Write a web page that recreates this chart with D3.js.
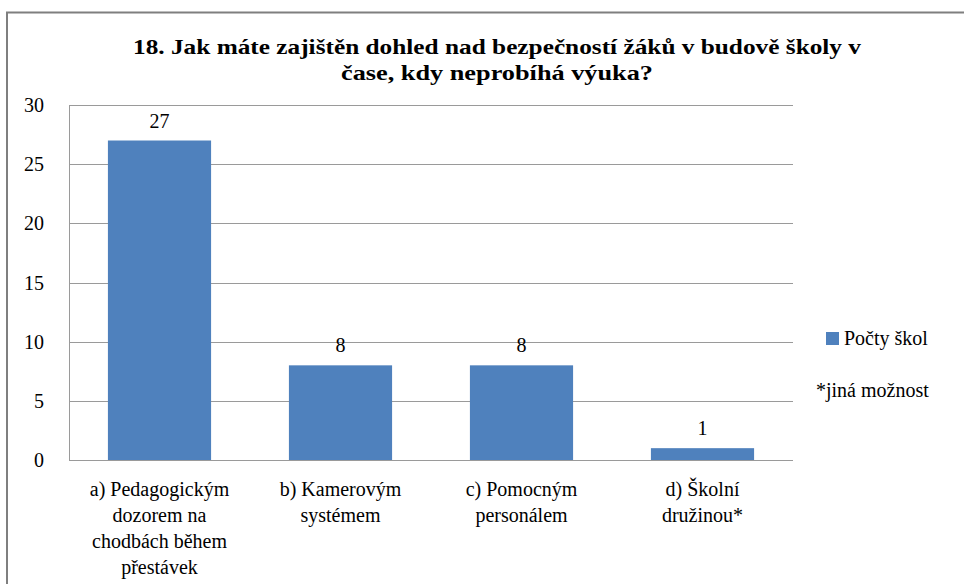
<!DOCTYPE html>
<html><head><meta charset="utf-8"><script src="https://cdn.jsdelivr.net/npm/d3@7"></script></head>
<body style="margin:0">
<script>
// chart values
const categories = [
  ["a) Pedagogickým", "dozorem na", "chodbách během", "přestávek"],
  ["b) Kamerovým", "systémem"],
  ["c) Pomocným", "personálem"],
  ["d)  Školní", "družinou*"]
];
const values = [27, 8, 8, 1];
const yTicks = [0, 5, 10, 15, 20, 25, 30];
const titleLines = [
  "18. Jak máte zajištěn dohled nad bezpečností žáků v budově školy v",
  "čase, kdy neprobíhá výuka?"
];
const legendLabels = ["Počty škol", "*jiná možnost"];

const W = 964, H = 584;
const margin = { top: 105, right: 171, bottom: 124, left: 69 };
const innerW = W - margin.left - margin.right;
const innerH = H - margin.top - margin.bottom;
const barColor = "#4f81bd";
const gridColor = "#9a9a9a";
const fam = "Times New Roman";

function label(sel) {
  return sel
    .attr("font-family", fam)
    .style("font-family", fam)
    .attr("font-size", 20)
    .attr("fill", "#000");
}

const svg = d3.select("body").append("svg")
  .attr("width", W)
  .attr("height", H);

// outer frame, cropped on right and bottom
svg.append("path")
  .attr("d", `M7,${H + 2} V12.5 H${W + 2}`)
  .attr("fill", "none")
  .attr("stroke", "#7f7f7f")
  .attr("stroke-width", 2);

// title
svg.selectAll("text.title")
  .data(titleLines)
  .join("text")
  .attr("class", "title")
  .attr("x", 497)
  .attr("y", (d, i) => 54 + i * 26)
  .attr("text-anchor", "middle")
  .call(label)
  .attr("font-size", 21)
  .attr("font-weight", "bold")
  .attr("textLength", (d, i) => (i === 0 ? 728 : 312))
  .attr("lengthAdjust", "spacingAndGlyphs")
  .text((d) => d);

const g = svg.append("g")
  .attr("transform", `translate(${margin.left},${margin.top})`);

const x = d3.scaleBand()
  .domain(d3.range(categories.length))
  .range([0, innerW])
  .paddingInner(0.43)
  .paddingOuter(0.215);
const y = d3.scaleLinear().domain([0, 30]).range([innerH, 0]);

// gridlines
g.append("g")
  .selectAll("line")
  .data(yTicks)
  .join("line")
  .attr("x1", 0)
  .attr("x2", innerW)
  .attr("y1", (d) => Math.round(y(d)) + 0.5)
  .attr("y2", (d) => Math.round(y(d)) + 0.5)
  .attr("stroke", gridColor);

g.append("line")
  .attr("x1", 0.5).attr("x2", 0.5)
  .attr("y1", 0).attr("y2", innerH)
  .attr("stroke", gridColor);

// y labels
g.append("g")
  .selectAll("text")
  .data(yTicks)
  .join("text")
  .attr("x", -25)
  .attr("y", (d) => y(d))
  .attr("dy", "0.35em")
  .attr("text-anchor", "end")
  .call(label)
  .text((d) => d);

// bars
g.append("g")
  .selectAll("rect")
  .data(values)
  .join("rect")
  .attr("x", (d, i) => x(i))
  .attr("y", (d) => y(d))
  .attr("width", x.bandwidth())
  .attr("height", (d) => innerH - y(d))
  .attr("fill", barColor);

// value labels
g.append("g")
  .selectAll("text")
  .data(values)
  .join("text")
  .attr("x", (d, i) => x(i) + x.bandwidth() / 2)
  .attr("y", (d) => y(d) - 13)
  .attr("text-anchor", "middle")
  .call(label)
  .text((d) => d);

// category labels
categories.forEach((lines, i) => {
  g.append("g")
    .selectAll("text")
    .data(lines)
    .join("text")
    .attr("x", x(i) + x.bandwidth() / 2)
    .attr("y", (d, j) => innerH + 36 + j * 26)
    .attr("text-anchor", "middle")
    .call(label)
    .text((d) => d);
});

// legend
svg.append("rect")
  .attr("x", 826)
  .attr("y", 332)
  .attr("width", 13)
  .attr("height", 13)
  .attr("fill", barColor);
svg.append("text")
  .attr("x", 844)
  .attr("y", 345)
  .call(label)
  .text(legendLabels[0]);
svg.append("text")
  .attr("x", 816)
  .attr("y", 397)
  .call(label)
  .text(legendLabels[1]);
</script>
</body>
</html>
